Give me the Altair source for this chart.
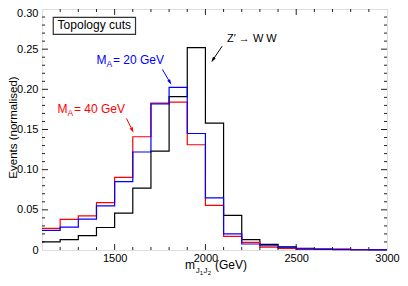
import math
import altair as alt
import pandas as pd

# ---------------- data ----------------
bin_edges = [1100, 1200, 1300, 1400, 1500, 1600, 1700, 1800, 1900, 2000,
             2100, 2200, 2300, 2400, 2500, 2600, 2700, 2800, 2900, 3000]
zprime_ww = [0.010, 0.013, 0.018, 0.028, 0.046, 0.077, 0.123, 0.191, 0.252, 0.158,
             0.043, 0.013, 0.007, 0.004, 0.002, 0.001, 0.0007, 0.0005, 0.0003]
ma20 = [0.0245, 0.0285, 0.0385, 0.055, 0.085, 0.122, 0.182, 0.2025, 0.145, 0.065,
        0.020, 0.0075, 0.0053, 0.0035, 0.0012, 0.0008, 0.0005, 0.0003, 0.0002]
ma40 = [0.027, 0.038, 0.0425, 0.059, 0.0905, 0.141, 0.183, 0.184, 0.131, 0.0555,
        0.017, 0.0095, 0.0037, 0.002, 0.0015, 0.0012, 0.001, 0.0005, 0.0003]

x_label_values = [1500, 2000, 2500, 3000]
y_label_values = [0, 0.05, 0.10, 0.15, 0.20, 0.25, 0.30]
x_major_ticks = [1500, 2000, 2500]
x_minor_ticks = [1200, 1300, 1400, 1600, 1700, 1800, 1900, 2100, 2200, 2300,
                 2400, 2600, 2700, 2800, 2900]
y_major_ticks = [0.05, 0.10, 0.15, 0.20, 0.25]
y_minor_ticks = [0.01, 0.02, 0.03, 0.04, 0.06, 0.07, 0.08, 0.09, 0.11, 0.12,
                 0.13, 0.14, 0.16, 0.17, 0.18, 0.19, 0.21, 0.22, 0.23, 0.24,
                 0.26, 0.27, 0.28, 0.29]

# annotation anchors (data coordinates)
label_x = [1400, 1185]
label_y = [0.232, 0.1711]
label_values = ["= 20 GeV", "= 40 GeV"]
zp_label = "Z\u2032 \u2192 W W"
zp_x, zp_y = 2119, 0.2595
box_x = [1162, 1615]
box_y = [0.2683, 0.2896]
box_text = "Topology cuts"
box_text_x, box_text_y = 1388, 0.2748
arrow_x1 = [1763, 1565, 2092]
arrow_y1 = [0.2248, 0.1638, 0.2537]
arrow_x2 = [1812, 1604, 2033]
arrow_y2 = [0.206, 0.1463, 0.234]
arrow_colors = ["#0000ff", "#ff0000", "#000000"]

# ---------------- layout ----------------
W, H = 345, 241
XD = [1100, 3000]
YD = [0, 0.30]
FONT = "Liberation Sans"
FRAME = "#222222"


def X():
    return alt.X("x:Q", scale=alt.Scale(domain=XD, nice=False, zero=False),
                 axis=alt.Axis(values=x_label_values, title=None, format="d",
                               labelFontSize=11, labelPadding=2.5, ticks=False, tickSize=0,
                               domain=False, grid=False, labelFlush=False, labelFont=FONT,
                               labelColor="black"))


def Y():
    return alt.Y("y:Q", scale=alt.Scale(domain=YD, nice=False, zero=False),
                 axis=alt.Axis(values=y_label_values, title="Events (normalised)",
                               labelExpr="datum.value == 0 ? '0' : format(datum.value, '.2f')",
                               labelOffset={"condition": {"test": "datum.value > 0.29", "value": 4},
                                            "value": 0},
                               labelFontSize=11, labelPadding=4, ticks=False, tickSize=0,
                               domain=False, grid=False, labelFont=FONT, labelColor="black",
                               titleFont=FONT, titleFontSize=11.5, titleFontWeight="normal",
                               titleColor="black", titleAngle=270, titleAlign="center",
                               titleBaseline="alphabetic", titleX=-25.5, titleY=118))


def hist(vals, color):
    df = pd.DataFrame({"x": bin_edges, "y": vals + [vals[-1]]})
    return alt.Chart(df).mark_line(interpolate="step-after", color=color,
                                   strokeWidth=1.2).encode(x=X(), y=Y())


layers = []
layers.append(hist(zprime_ww, "#000000"))
layers.append(hist(ma40, "#ff0000"))
layers.append(hist(ma20, "#0000ff"))

# inward ticks
tick_len = {"major": 6, "minor": 3}
for vals, kind in [(y_major_ticks, "major"), (y_minor_ticks, "minor")]:
    df = pd.DataFrame({"y": vals})
    L = tick_len[kind]
    layers.append(alt.Chart(df).mark_rule(color=FRAME, strokeWidth=1).encode(
        y=Y(), x=alt.value(0), x2=alt.value(L)))
    layers.append(alt.Chart(df).mark_rule(color=FRAME, strokeWidth=1).encode(
        y=Y(), x=alt.value(W), x2=alt.value(W - L)))
for vals, kind in [(x_major_ticks, "major"), (x_minor_ticks, "minor")]:
    df = pd.DataFrame({"x": vals})
    L = tick_len[kind]
    layers.append(alt.Chart(df).mark_rule(color=FRAME, strokeWidth=1).encode(
        x=X(), y=alt.value(0), y2=alt.value(L)))
    layers.append(alt.Chart(df).mark_rule(color=FRAME, strokeWidth=1).encode(
        x=X(), y=alt.value(H), y2=alt.value(H - L)))

# box with "Topology cuts"
box_df = pd.DataFrame({"x": [box_x[0]], "x2": [box_x[1]], "y": [box_y[0]], "y2": [box_y[1]]})
layers.append(alt.Chart(box_df).mark_rect(fill="white", stroke="#333333", strokeWidth=1.2).encode(
    x=X(), x2="x2:Q", y=Y(), y2="y2:Q"))
layers.append(alt.Chart(pd.DataFrame({"x": [box_text_x], "y": [box_text_y], "t": [box_text]}))
              .mark_text(align="center", baseline="alphabetic", fontSize=12, font=FONT, color="black")
              .encode(x=X(), y=Y(), text="t:N"))

# M_A labels
label_colors = ["#0000ff", "#ff0000"]
for i in range(2):
    base = pd.DataFrame({"x": [label_x[i]], "y": [label_y[i]]})
    col = label_colors[i]
    layers.append(alt.Chart(base.assign(t="M")).mark_text(
        align="left", baseline="alphabetic", fontSize=12, font=FONT, color=col
    ).encode(x=X(), y=Y(), text="t:N"))
    layers.append(alt.Chart(base.assign(t="A")).mark_text(
        align="left", baseline="alphabetic", fontSize=8.5, font=FONT, color=col, dx=10, dy=3.5
    ).encode(x=X(), y=Y(), text="t:N"))
    layers.append(alt.Chart(base.assign(t=label_values[i])).mark_text(
        align="left", baseline="alphabetic", fontSize=12, font=FONT, color=col, dx=16.5
    ).encode(x=X(), y=Y(), text="t:N"))

layers.append(alt.Chart(pd.DataFrame({"x": [zp_x], "y": [zp_y], "t": [zp_label]})).mark_text(
    align="left", baseline="alphabetic", fontSize=11, font=FONT, color="black"
).encode(x=X(), y=Y(), text="t:N"))

# arrows
sx = W / (XD[1] - XD[0])
sy = H / (YD[1] - YD[0])
rows = []
for i in range(3):
    dxp = (arrow_x2[i] - arrow_x1[i]) * sx
    dyp = -(arrow_y2[i] - arrow_y1[i]) * sy
    ang = math.degrees(math.atan2(dxp, -dyp)) % 360
    n = math.hypot(dxp, dyp)
    back = 2.5
    hx = arrow_x2[i] - back * dxp / n / sx
    hy = arrow_y2[i] + back * dyp / n / sy
    rows.append({"x": arrow_x1[i], "y": arrow_y1[i], "x2": hx, "y2": hy,
                 "hx": hx, "hy": hy, "ang": ang, "c": arrow_colors[i]})
adf = pd.DataFrame(rows)
layers.append(alt.Chart(adf).mark_rule(strokeWidth=1).encode(
    x=X(), y=Y(), x2="x2:Q", y2="y2:Q", color=alt.Color("c:N", scale=None)))
head_df = adf[["hx", "hy", "ang", "c"]].rename(columns={"hx": "x", "hy": "y"})
layers.append(alt.Chart(head_df).mark_point(
    shape="M0,-1L0.6,1L-0.6,1Z", filled=True, size=30, opacity=1
).encode(x=X(), y=Y(), angle=alt.Angle("ang:Q", scale=None),
         color=alt.Color("c:N", scale=None)))

# x-axis title with subscripts (pixel offsets from plot origin)
xt = [
    ("m", 143, 260, 12),
    ("J", 153.7, 263.5, 8),
    ("1", 157.8, 265.5, 6),
    ("J", 161.6, 263.5, 8),
    ("2", 165.8, 265.5, 6),
    ("(GeV)", 173, 260, 12),
]
for t, px, py, fs in xt:
    layers.append(alt.Chart(pd.DataFrame({"t": [t]})).mark_text(
        align="left", baseline="alphabetic", fontSize=fs, font=FONT, color="black"
    ).encode(x=alt.value(px), y=alt.value(py), text="t:N"))

chart = alt.layer(*layers).properties(
    width=W, height=H,
    padding={"left": 34, "top": 1, "right": 13, "bottom": 26},
    autosize="none",
).configure_view(stroke=FRAME, strokeWidth=1).configure(background="white")

chart.save("out.html", embed_options={"renderer": "svg", "actions": False})
